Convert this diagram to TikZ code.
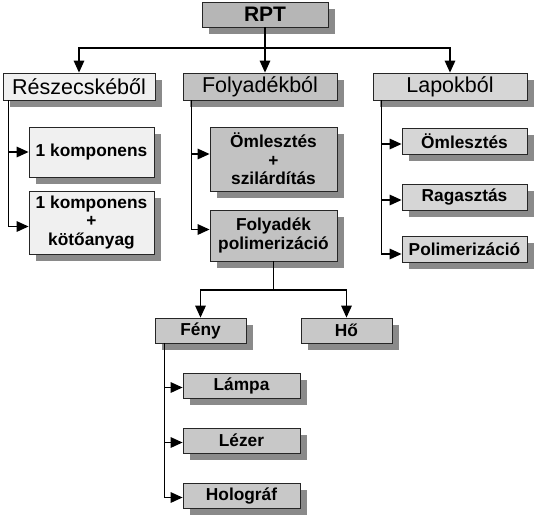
\documentclass[tikz,border=0pt]{standalone}
\usepackage{fontspec}
\setmainfont{Liberation Sans}
\usepackage{xcolor}
\usetikzlibrary{positioning, arrows.meta, shadows}

\definecolor{rptgray}{HTML}{B6B6B6}
\definecolor{darkbox}{HTML}{C2C2C2}
\definecolor{midbox}{HTML}{D6D6D6}
\definecolor{lightbox}{HTML}{F0F0F0}
\definecolor{lowbox}{HTML}{C8C8C8}
\definecolor{shadowgray}{HTML}{8A8A8A}

\begin{document}
\begin{tikzpicture}[
    x=1pt, y=-1pt,
    box/.style={rectangle, draw=black!85, line width=0.8pt, align=center, inner sep=0pt,
        drop shadow={shadow xshift=7pt, shadow yshift=-7pt, fill=shadowgray, opacity=1}},
    head/.style={box, font=\fontsize{21.5}{23}\selectfont, minimum height=27pt},
    kid/.style={box, font=\bfseries\fontsize{17.3}{18.5}\selectfont},
    arrow/.style={-{Triangle[length=12pt, width=10.5pt]}, line width=1.5pt},
    line/.style={line width=1.5pt}
]
    \useasboundingbox (0,0) rectangle (536,520);

    % Main components
    \node[box, fill=rptgray, font=\bfseries\fontsize{21}{22}\selectfont, minimum width=126pt, minimum height=25pt] (rpt) at (265,14.5) {RPT};
    \node[head, fill=lightbox, minimum width=152pt] (reszecske) at (79,86.5) {Részecskéből};
    \node[head, fill=darkbox, minimum width=154pt] (folyadek) at (260,86.5) {Folyadékból};
    \node[head, fill=midbox, minimum width=154pt] (lapok) at (450,86.5) {Lapokból};
    \coordinate (topbar) at (265,48);

    % Részecskéből
    \node[kid, fill=lightbox, minimum width=125pt, minimum height=50pt] (egykomp) at (91.5,152) {1 komponens};
    \node[kid, fill=lightbox, minimum width=125pt, minimum height=63pt] (kotoanyag) at (91.5,222.5) {1 komponens\\+\\kötőanyag};

    % Folyadékból
    \node[kid, fill=darkbox, minimum width=127pt, minimum height=64pt] (omlszil) at (273.5,159) {Ömlesztés\\+\\szilárdítás};
    \node[kid, fill=darkbox, minimum width=127pt, minimum height=51pt] (polim) at (273.5,235.5) {Folyadék\\polimerizáció};

    % Lapokból
    \node[kid, fill=midbox, minimum width=125pt, minimum height=26pt] (omleszt) at (464.5,141) {Ömlesztés};
    \node[kid, fill=midbox, minimum width=125pt, minimum height=26pt] (ragaszt) at (464.5,197) {Ragasztás};
    \node[kid, fill=midbox, minimum width=125pt, minimum height=26pt] (polimer) at (464.5,249) {Polimerizáció};

    % Polimerizáció fajtái
    \node[kid, fill=lowbox, minimum width=91pt, minimum height=25pt] (feny) at (200.5,330.5) {Fény};
    \node[kid, fill=lowbox, minimum width=91pt, minimum height=25pt] (ho) at (346.5,330.5) {Hő};
    \coordinate (lowbar) at (273.5,290);
    \node[kid, fill=lowbox, minimum width=117pt, minimum height=25pt] (lampa) at (241.5,385.5) {Lámpa};
    \node[kid, fill=lowbox, minimum width=117pt, minimum height=25pt] (lezer) at (241.5,440.5) {Lézer};
    \node[kid, fill=lowbox, minimum width=117pt, minimum height=25pt] (holograf) at (241.5,495.5) {Holográf};

    % Connections
    \draw[line] (rpt.south) -- (topbar);
    \draw[arrow] (topbar) -| (reszecske.north);
    \draw[arrow] (topbar) -| (lapok.north);
    \draw[arrow] (rpt.south) -- (rpt.south |- folyadek.north);

    \draw[arrow] ([xshift=6pt]reszecske.south west) |- (egykomp.west);
    \draw[arrow] ([xshift=6pt]reszecske.south west) |- ([yshift=-4pt]kotoanyag.west);

    \draw[arrow] ([xshift=9pt]folyadek.south west) |- ([yshift=5pt]omlszil.west);
    \draw[arrow] ([xshift=9pt]folyadek.south west) |- ([yshift=6pt]polim.west);

    \draw[arrow] ([xshift=9pt]lapok.south west) |- ([yshift=-3pt]omleszt.west);
    \draw[arrow] ([xshift=9pt]lapok.south west) |- ([yshift=-3pt]ragaszt.west);
    \draw[arrow] ([xshift=9pt]lapok.south west) |- ([yshift=-5pt]polimer.west);

    \draw[line] (polim.south) -- (lowbar);
    \draw[arrow] (lowbar) -| (feny.north);
    \draw[arrow] (lowbar) -| (ho.north);

    \draw[arrow] ([xshift=10pt]feny.south west) |- ([yshift=-2pt]lampa.west);
    \draw[arrow] ([xshift=10pt]feny.south west) |- ([yshift=-2pt]lezer.west);
    \draw[arrow] ([xshift=10pt]feny.south west) |- ([yshift=-2pt]holograf.west);

\end{tikzpicture}
\end{document}
